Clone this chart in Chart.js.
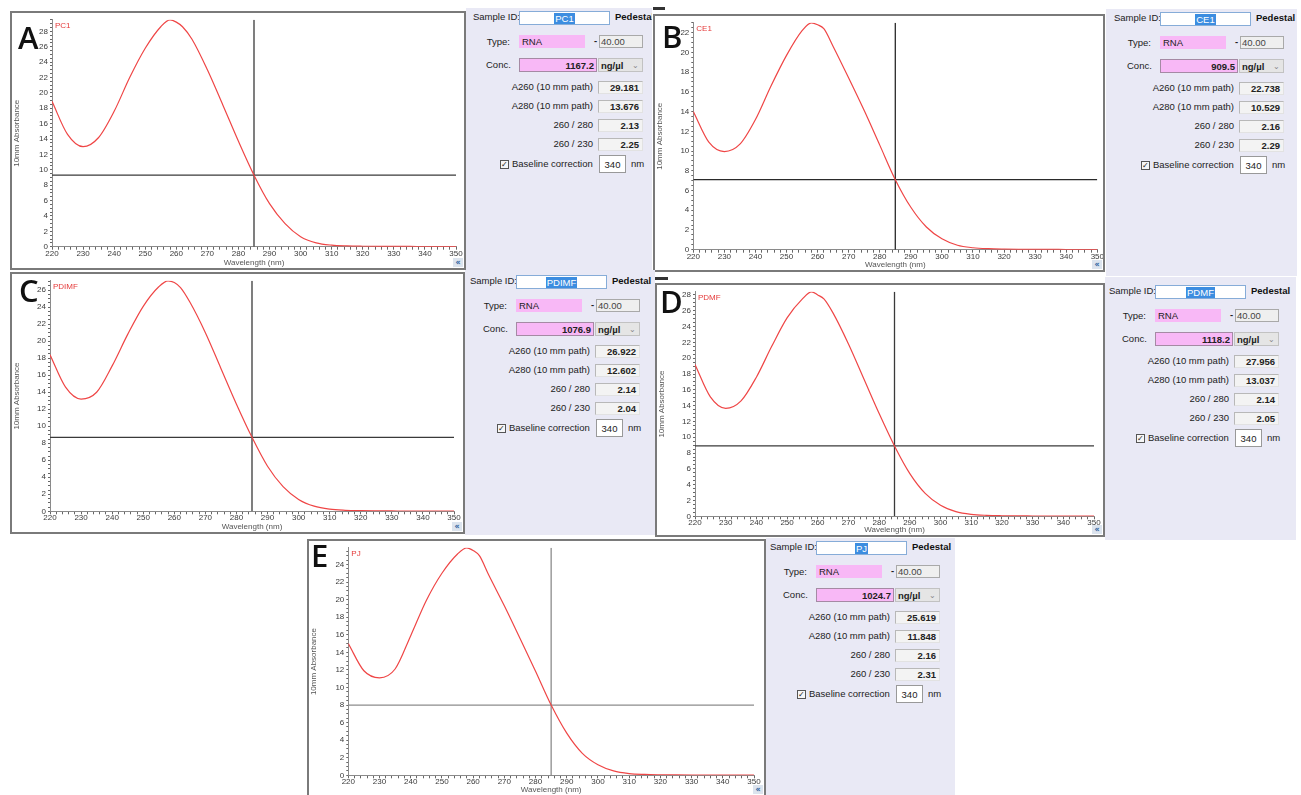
<!DOCTYPE html>
<html><head><meta charset="utf-8">
<script src="https://cdn.jsdelivr.net/npm/chart.js@4.4.1/dist/chart.umd.min.js"></script>
<style>
html,body{margin:0;padding:0;background:#fff;}
body{width:1301px;height:795px;position:relative;overflow:hidden;font-family:"Liberation Sans",Arial,sans-serif;}
.frame{position:absolute;box-sizing:border-box;border:2px solid #7a7a7a;background:#fff;}
.frame canvas{position:absolute;left:0;top:0;}
.btn{position:absolute;right:1px;bottom:1px;width:10px;height:9px;background:#dce4ee;color:#2d5f9e;font:bold 8px/9px "DejaVu Sans";text-align:center;}
.side{position:absolute;background:#e9e9f5;overflow:hidden;}
.c{position:absolute;width:240px;height:200px;}
.lbl{position:absolute;font-size:9.5px;color:#222;white-space:nowrap;line-height:12px;}
.r{text-align:right;width:160px;}
.box{position:absolute;box-sizing:border-box;font-size:9.5px;white-space:nowrap;display:flex;align-items:center;color:#222;overflow:hidden;}
.val{background:#f3f3f3;border-top:1px solid #b8b8b8;border-left:1px solid #b8b8b8;border-right:1px solid #e2e2e2;border-bottom:1px solid #e2e2e2;justify-content:flex-end;padding-right:3px;font-weight:bold;}
.pink{background:#f8b8f6;}
.letter{position:absolute;font:600 31px/31px "Open Sans",sans-serif;color:#111;z-index:5;}
.bar{position:absolute;background:#333;}
</style>
</head><body>
<script>
// ---- data ----
const wavelengths = [220,225,230,235,240,245,250,255,258,260,262,265,270,275,280,285,290,295,300,305,310,315,320,325,330,335,340,345,350];
const absPC1   = [18.9,14.6,13.0,14.2,17.6,22.0,25.8,28.6,29.5,29.2,28.6,27.0,23.0,18.4,13.7,9.3,5.6,3.0,1.3,0.5,0.2,0.1,0.06,0.04,0.03,0.03,0.02,0.02,0.02];
const absCE1   = [14.0,10.9,9.95,10.7,13.2,16.6,19.7,22.2,23.0,22.8,22.4,20.6,17.4,14.1,10.6,7.1,4.3,2.3,1.1,0.45,0.2,0.1,0.06,0.04,0.03,0.03,0.02,0.02,0.02];
const absPDIMF = [18.4,14.6,13.2,14.0,17.1,20.8,24.1,26.4,27.1,26.9,26.3,24.6,21.0,16.8,12.6,8.7,5.3,2.9,1.4,0.6,0.25,0.12,0.07,0.05,0.04,0.03,0.03,0.02,0.02];
const absPDMF  = [19.2,15.1,13.65,14.6,17.6,21.5,25.1,27.5,28.4,28.0,27.5,25.7,21.8,17.4,13.0,8.9,5.4,2.9,1.4,0.6,0.25,0.12,0.07,0.05,0.04,0.03,0.03,0.02,0.02];
const absPJ    = [15.0,11.9,11.1,12.1,15.9,19.9,23.0,25.2,25.9,25.6,25.0,22.8,19.3,15.6,11.85,8.0,4.8,2.5,1.2,0.5,0.2,0.1,0.06,0.04,0.03,0.03,0.02,0.02,0.02];
const seriesList = [absPC1, absCE1, absPDIMF, absPDMF, absPJ];
const yMax = [29.5, 23.0, 27.1, 28.4, 25.9];
const crossX = 285;
const crossY = [9.3, 7.1, 8.7, 8.9, 8.0];
const xTickStep = 10;
const yTickStep = 2;
const panelLetters = ["A","B","C","D","E"];
const sampleIds = ["PC1","CE1","PDIMF","PDMF","PJ"];
const concs = ["1167.2","909.5","1076.9","1118.2","1024.7"];
const a260 = ["29.181","22.738","26.922","27.956","25.619"];
const a280 = ["13.676","10.529","12.602","13.037","11.848"];
const r260_280 = ["2.13","2.16","2.14","2.14","2.16"];
const r260_230 = ["2.25","2.29","2.04","2.05","2.31"];
const sampleType = "RNA";
const factor = "40.00";
const unit = "ng/µl";
const baselineNm = "340";

// ---- layout (page pixels) ----
const frames = [
  {l:10,t:11,r:466,b:270},{l:653,t:14,r:1105,b:272},{l:10,t:272,r:465,b:534},
  {l:655,t:283,r:1105,b:537},{l:307,t:539,r:766,b:797}];
const plots = [
  {l:52,r:456,t:13,b:246.7},{l:693.3,r:1097.3,t:15,b:249.7},{l:50,r:454,t:275.7,b:511.3},
  {l:695,r:1094,t:285,b:516.3},{l:348.3,r:754,t:541.7,b:775.3}];
const sideBg = [
  {l:466,t:8,r:652,b:271},{l:1106,t:9,r:1297,b:276},{l:465,t:270,r:655,b:535},
  {l:1105,t:277,r:1296,b:540},{l:766,t:538,r:955,b:795}];
const sideOrigin = [{x:466,y:8},{x:1107,y:9},{x:463,y:272},{x:1102,y:282},{x:763,y:538}];
const letterPos = [{x:18,y:22},{x:662,y:21},{x:19,y:275},{x:660,y:286},{x:311,y:540}];
const crossColor = ['#3a3a3a','#2a2a2a','#3a3a3a','#3a3a3a','#8c8c8c'];

function el(tag, cls, css, parent, html){
  const e=document.createElement(tag); if(cls) e.className=cls;
  for(const k in css){ const v=css[k]; e.style[k]= (typeof v==='number')? v+'px' : v; }
  if(html!==undefined) e.innerHTML=html;
  (parent||document.body).appendChild(e); return e;
}

const tagPlugin = {id:'tag', afterDraw(chart,args,opts){
  const ctx=chart.ctx, a=chart.chartArea; ctx.save();
  ctx.font='8px "Liberation Sans", Arial'; ctx.fillStyle='#e53a3a'; ctx.textBaseline='top';
  ctx.fillText(opts.text||'', a.left+3, a.top+2); ctx.restore();
}};

function makeChart(i){
  const f=frames[i], p=plots[i];
  const fr = el('div','frame',{left:f.l,top:f.t,width:f.r-f.l,height:f.b-f.t});
  const cw=f.r-f.l-4, ch=f.b-f.t-4, cl=f.l+2, ct=f.t+2;
  const cv = document.createElement('canvas'); cv.width=cw; cv.height=ch;
  cv.style.width=cw+'px'; cv.style.height=ch+'px'; fr.appendChild(cv);
  el('div','btn',{},fr,'«');
  const yW=p.l-cl, xH=(ct+ch)-p.b, padT=Math.max(0,p.t-ct), padR=(cl+cw)-p.r;
  const curve = wavelengths.map((w,k)=>({x:w,y:seriesList[i][k]}));
  const x0=wavelengths[0], x1=wavelengths[wavelengths.length-1];
  const vline=[{x:crossX,y:0},{x:crossX,y:yMax[i]}];
  const hline=[{x:x0,y:crossY[i]},{x:x1,y:crossY[i]}];
  new Chart(cv,{type:'scatter',
    data:{datasets:[
      {data:curve,showLine:true,borderColor:'#ef4646',borderWidth:1.2,pointRadius:0,cubicInterpolationMode:'monotone',fill:false},
      {data:hline,showLine:true,borderColor:crossColor[i],borderWidth:1.3,pointRadius:0},
      {data:vline,showLine:true,borderColor:crossColor[i],borderWidth:1.3,pointRadius:0}
    ]},
    plugins:[tagPlugin],
    options:{responsive:false,animation:false,devicePixelRatio:1,
      layout:{autoPadding:false,padding:{left:0,top:padT,right:padR,bottom:0}},
      plugins:{legend:{display:false},tooltip:{enabled:false},tag:{text:sampleIds[i]}},
      scales:{
        x:{type:'linear',min:x0,max:x1,afterFit:s=>{s.height=xH;},
          ticks:{stepSize:2,autoSkip:false,maxRotation:0,includeBounds:false,maxTicksLimit:1000,
            callback:v=> (v%xTickStep===0)? String(v):'',font:{size:8,family:'Liberation Sans'},color:'#3a3a3a',padding:-1},
          grid:{drawOnChartArea:false,drawTicks:true,tickLength:3,color:'#666'},
          border:{display:true,color:'#8a8a8a'},
          title:{display:true,text:'Wavelength (nm)',font:{size:8,family:'Liberation Sans'},color:'#555',padding:{top:0,bottom:0}}},
        y:{type:'linear',min:0,max:yMax[i],afterFit:s=>{s.width=yW;},
          ticks:{stepSize:0.5,autoSkip:false,includeBounds:false,maxTicksLimit:1000,
            callback:v=> (Math.abs(v%yTickStep)<1e-9)? String(v):'',font:{size:8,family:'Liberation Sans'},color:'#3a3a3a',padding:2},
          grid:{drawOnChartArea:false,drawTicks:true,tickLength:2,color:'#666'},
          border:{display:true,color:'#8a8a8a'},
          title:{display:true,text:'10mm Absorbance',font:{size:8,family:'Liberation Sans'},color:'#555',padding:{top:0,bottom:2}}}
      }}});
}

function lblAt(parent,text,left,cy,extra){ return el('div','lbl',Object.assign({left:left,top:cy-6},extra||{}),parent,text); }
function lblR(parent,text,right,cy){ return el('div','lbl r',{left:right-160,top:cy-6},parent,text); }

function makeSide(i){
  const bg=sideBg[i], o=sideOrigin[i];
  const s=el('div','side',{left:bg.l,top:bg.t,width:bg.r-bg.l,height:bg.b-bg.t});
  const c=el('div','c',{left:o.x-bg.l,top:o.y-bg.t},s);
  lblAt(c,'Sample ID:',7,9);
  el('div','box',{left:53,top:3,width:91,height:14,background:'#fff',border:'1px solid #86acd8',justifyContent:'center'},c,
     '<span style="background:#3c8de0;color:#fff;padding:0 1px;line-height:11px">'+sampleIds[i]+'</span>');
  lblAt(c,'Pedestal',149,9,{fontWeight:'bold',color:'#111'});
  lblR(c,'Type:',44,34);
  el('div','box pink',{left:53,top:27,width:66,height:13,paddingLeft:'3px'},c,sampleType);
  lblAt(c,'-',128,33,{fontWeight:'bold'});
  el('div','box',{left:133,top:27,width:44,height:13,background:'#efefef',border:'1px solid #a9a9a9',paddingLeft:'1px',color:'#444'},c,factor);
  lblAt(c,'Conc.',20,56.5);
  el('div','box pink',{left:53,top:50,width:78,height:14,border:'1px solid #a58aa4',justifyContent:'flex-end',paddingRight:'2px',fontWeight:'bold'},c,concs[i]);
  el('div','box',{left:132,top:50,width:45,height:14,background:'#e5e5e5',border:'1px solid #c2c2c2',paddingLeft:'2px',fontWeight:'bold',justifyContent:'space-between'},c,
     unit+'<span style="font-weight:normal;color:#888;font-size:8px;padding-right:3px">&#8964;</span>');
  const rows=[['A260 (10 mm path)',a260[i],79,73],['A280 (10 mm path)',a280[i],98,92],['260 / 280',r260_280[i],117,111],['260 / 230',r260_230[i],136,130]];
  rows.forEach(r=>{ lblR(c,r[0],127,r[2]); el('div','box val',{left:132,top:r[3],width:45,height:13},c,r[1]); });
  el('div','box',{left:34,top:152,width:9,height:9,border:'1px solid #555',background:'#f6f6f6',justifyContent:'center',fontSize:'8px',lineHeight:'8px'},c,'&#10003;');
  lblAt(c,'Baseline correction',46,156);
  el('div','box',{left:133,top:147,width:27,height:18,background:'#fff',border:'1px solid #999',justifyContent:'center'},c,baselineNm);
  lblAt(c,'nm',165,156);
}

for(let i=0;i<5;i++){ makeSide(i); makeChart(i); }
for(let i=0;i<5;i++){ el('div','letter',{left:letterPos[i].x,top:letterPos[i].y},null,panelLetters[i]); }
el('div','bar',{left:653,top:7,width:12,height:3});
el('div','bar',{left:655,top:277,width:13,height:3});
</script>
</body></html>
